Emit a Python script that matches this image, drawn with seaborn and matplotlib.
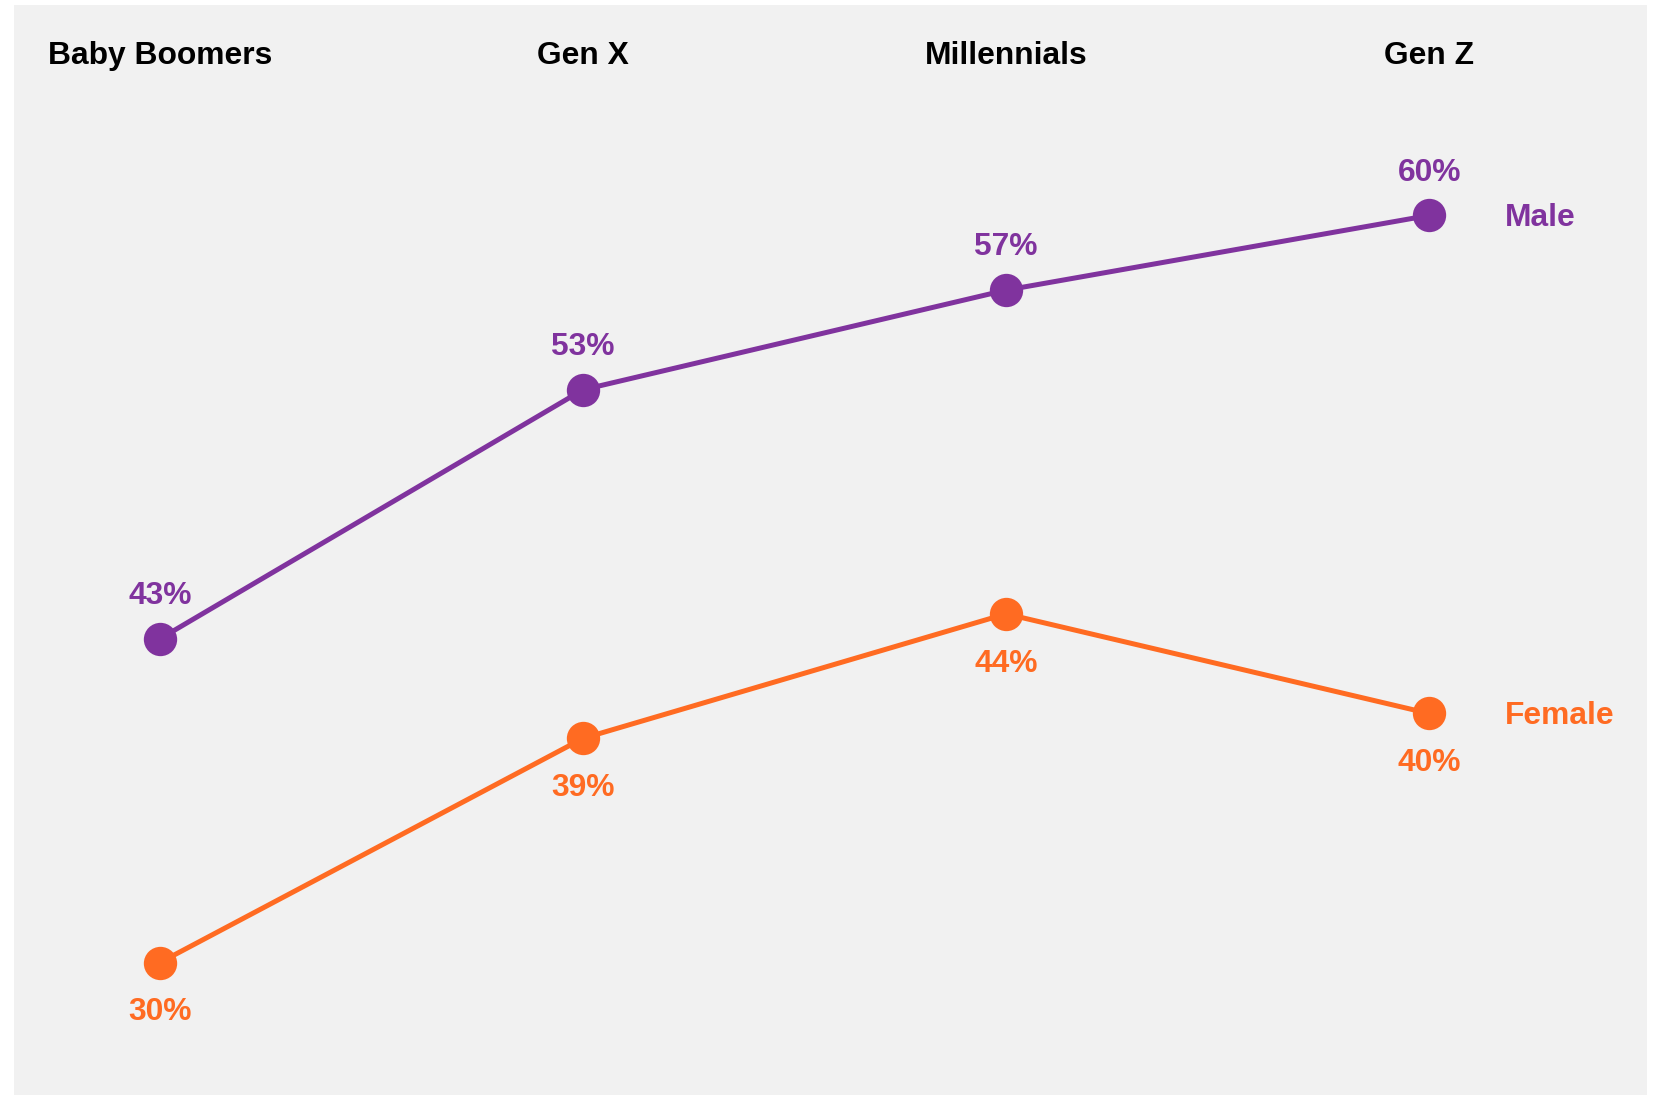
import matplotlib
matplotlib.use("Agg")
import matplotlib.pyplot as plt
import seaborn as sns
import pandas as pd

generations = ["Baby Boomers", "Gen X", "Millennials", "Gen Z"]
male = [43, 53, 57, 60]
female = [30, 39, 44, 40]
series = ["Male", "Female"]

PURPLE = "#80339e"
ORANGE = "#ff6b22"
BG = "#f1f1f1"


def init():
    sns.set_style("white")
    plt.rcParams["font.family"] = ["Liberation Sans", "DejaVu Sans"]
    plt.rcParams["font.weight"] = "bold"


init()

df = pd.DataFrame(
    {
        "pos": list(range(len(generations))) * 2,
        "value": male + female,
        "gender": ["Male"] * len(male) + ["Female"] * len(female),
    }
)
colors = dict(zip(series, [PURPLE, ORANGE]))

W, H = 1658, 1096
fig = plt.figure(figsize=(W / 100, H / 100), dpi=100)
fig.patch.set_facecolor("white")
ax = fig.add_axes([14 / W, 1 - 1095 / H, (1647 - 14) / W, 1090 / H])
ax.set_facecolor(BG)

sns.lineplot(
    data=df,
    x="pos",
    y="value",
    hue="gender",
    palette=colors,
    marker="o",
    markersize=24,
    markeredgewidth=0,
    linewidth=3.6,
    legend=False,
    ax=ax,
)

ax.set_xlim(-0.345, 3.515)
ax.set_ylim(24.68, 68.45)

fs = 22.9
for i, g in enumerate(generations):
    ax.text(i, 66.4, g, ha="center", va="center", fontsize=fs, color="black",
            fontweight="bold")
    ax.text(i, male[i] + 1.72, f"{male[i]}%", ha="center", va="center",
            fontsize=fs, color=PURPLE, fontweight="bold")
    ax.text(i, female[i] - 2.0, f"{female[i]}%", ha="center", va="center",
            fontsize=fs, color=ORANGE, fontweight="bold")

# series names to the right of the last point
ax.text(3.18, male[-1] - 0.12, "Male", ha="left", va="center", fontsize=fs,
        color=PURPLE, fontweight="bold")
ax.text(3.18, female[-1] - 0.12, "Female", ha="left", va="center", fontsize=fs,
        color=ORANGE, fontweight="bold")

ax.set_xticks([])
ax.set_yticks([])
ax.set_xlabel("")
ax.set_ylabel("")
for s in ax.spines.values():
    s.set_visible(False)

fig.savefig("out.png", dpi=100, facecolor="white")
